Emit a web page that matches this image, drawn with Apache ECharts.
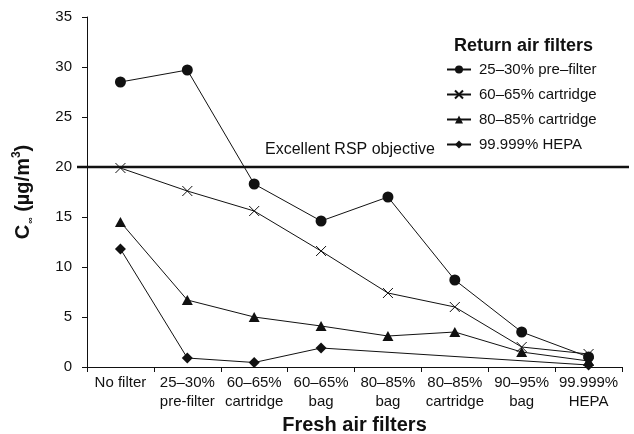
<!DOCTYPE html>
<html><head><meta charset="utf-8">
<script src="https://cdn.jsdelivr.net/npm/echarts@6/dist/echarts.min.js"></script>
<style>html,body{margin:0;padding:0;background:#fff}#c{width:634px;height:434px}</style>
</head><body><div id="c"></div>
<script>
const categories = ['No filter','25–30%\npre-filter','60–65%\ncartridge','60–65%\nbag','80–85%\nbag','80–85%\ncartridge','90–95%\nbag','99.999%\nHEPA'];
const preFilter = [28.5, 29.7, 18.3, 14.6, 17.0, 8.7, 3.5, 1.0];
const cartridge6065 = [19.9, 17.6, 15.6, 11.6, 7.4, 6.0, 2.0, 1.3];
const cartridge8085 = [14.5, 6.7, 5.0, 4.1, 3.1, 3.5, 1.5, 0.6];
const hepa = [11.8, 0.9, 0.45, 1.9, null, null, null, 0.2];
const objective = 20;
const yTicks = {min: 0, max: 35, interval: 5};

const F = '"Liberation Sans", Arial, Helvetica, sans-serif';
const INK = '#111';
const xPath = 'path://M0,0L10,10M10,0L0,10';

function mk(name, data, symbol, size, extra) {
  return Object.assign({
    name, type: 'line', data, symbol, symbolSize: size,
    connectNulls: true,
    lineStyle: {color: INK, width: 1},
    itemStyle: {color: INK},
    xAxisIndex: 0, yAxisIndex: 0, z: 3
  }, extra || {});
}

const chart = echarts.init(document.getElementById('c'), null, {renderer: 'canvas'});
chart.setOption({
  animation: false,
  backgroundColor: '#fff',
  title: {text: 'Return air filters', left: 449, top: 32,
    textStyle: {fontFamily: F, fontSize: 18, fontWeight: 'bold', color: INK}},
  legend: {
    data: ['25–30% pre–filter','60–65% cartridge','80–85% cartridge','99.999% HEPA'],
    orient: 'vertical', left: 446, top: 62, padding: 0,
    itemWidth: 24, itemHeight: 10, itemGap: 10,
    textStyle: {fontFamily: F, fontSize: 15, color: INK, lineHeight: 15, padding: [0,0,0,3]}
  },
  grid: [
    {left: 87, right: 12, top: 17, bottom: 67, containLabel: false, outerBoundsMode: 'none'},
    {left: 77, right: 5, top: 17, bottom: 67, containLabel: false, outerBoundsMode: 'none'}
  ],
  xAxis: [
    {type: 'category', data: categories, gridIndex: 0, boundaryGap: true,
      axisLine: {lineStyle: {color: INK, width: 1}},
      axisTick: {show: true, length: 5, inside: false, lineStyle: {color: INK}},
      axisLabel: {fontFamily: F, fontSize: 15, color: INK, lineHeight: 19, margin: 6, interval: 0},
      name: 'Fresh air filters', nameLocation: 'middle', nameGap: 45,
      nameTextStyle: {fontFamily: F, fontSize: 20, fontWeight: 'bold', color: INK}},
    {type: 'value', gridIndex: 1, min: 0, max: 1, show: false}
  ],
  yAxis: [
    {type: 'value', gridIndex: 0, min: yTicks.min, max: yTicks.max, interval: yTicks.interval,
      axisLine: {show: true, lineStyle: {color: INK, width: 1}},
      axisTick: {show: true, length: 5, lineStyle: {color: INK}},
      splitLine: {show: false},
      axisLabel: {fontFamily: F, fontSize: 15, color: INK, margin: 15},
      name: '{b|C}{s|∞}{b| (µg/m}{p|3}{b|)}', nameLocation: 'middle', nameGap: 52,
      nameTextStyle: {fontFamily: F, fontSize: 20, fontWeight: 'bold', color: INK,
        rich: {
          b: {fontFamily: F, fontSize: 20, fontWeight: 'bold', color: INK, lineHeight: 24, verticalAlign: 'middle'},
          s: {fontFamily: F, fontSize: 9, color: INK, verticalAlign: 'bottom', lineHeight: 24, padding: [0,0,0,1]},
          p: {fontFamily: F, fontSize: 12, fontWeight: 'bold', color: INK, verticalAlign: 'top', lineHeight: 24}
        }}},
    {type: 'value', gridIndex: 1, min: yTicks.min, max: yTicks.max, show: false}
  ],
  graphic: [
    {type: 'text', left: 265, top: 142, z: 10,
      style: {text: 'Excellent RSP objective', font: '16px ' + F, fill: INK}}
  ],
  series: [
    {name: 'objective', type: 'line', xAxisIndex: 1, yAxisIndex: 1,
      data: [[0, objective], [1, objective]], symbol: 'none', silent: true,
      lineStyle: {color: INK, width: 2.5}, z: 2},
    mk('25–30% pre–filter', preFilter, 'circle', 11),
    mk('60–65% cartridge', cartridge6065, xPath, 10, {itemStyle: {color: 'transparent', borderColor: INK, borderWidth: 1}}),
    mk('80–85% cartridge', cartridge8085, 'triangle', [11, 10]),
    mk('99.999% HEPA', hepa, 'diamond', [11, 11])
  ]
});
</script></body></html>
